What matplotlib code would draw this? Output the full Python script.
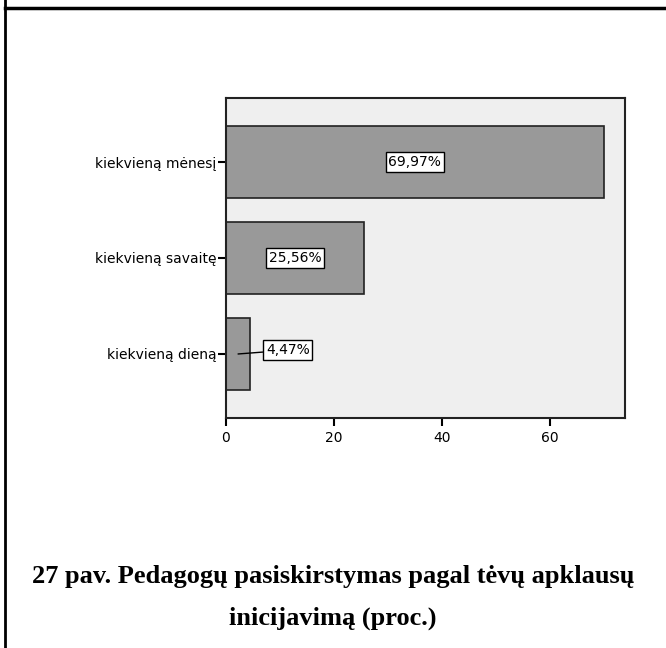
import matplotlib.pyplot as plt
from matplotlib.lines import Line2D

categories = ["kiekvieną dieną", "kiekvieną savaitę", "kiekvieną mėnesį"]
values = [4.47, 25.56, 69.97]
labels = ["4,47%", "25,56%", "69,97%"]
xticks = [0, 20, 40, 60]

fig = plt.figure(figsize=(6.66, 6.48), dpi=100)
W, H = 666, 648
sans = "DejaVu Sans"

# axes box in pixels: left 226, right 625, top 98, bottom 418
ax = fig.add_axes([226 / W, 1 - 418 / H, (625 - 226) / W, (418 - 98) / H])
ax.set_facecolor("#efefef")
ax.barh(range(len(values)), values, height=0.75, color="#999999",
        edgecolor="#222222", linewidth=1.2)
ax.set_xlim(0, 73.9)
ax.set_ylim(-0.667, 2.667)
ax.set_yticks(range(len(categories)))
ax.set_yticklabels(categories, fontsize=10, family=sans)
ax.set_xticks(xticks)
ax.set_xticklabels([str(t) for t in xticks], fontsize=10, family=sans)
ax.tick_params(axis="both", direction="out", length=6, width=1.5, color="black")
ax.tick_params(axis="y", pad=1)
ax.tick_params(axis="x", pad=3)
for s in ax.spines.values():
    s.set_linewidth(1.5)
    s.set_color("#222222")

box = dict(boxstyle="square,pad=0.2", facecolor="white", edgecolor="black", linewidth=1)
for i, (v, lab) in enumerate(zip(values, labels)):
    if v > 15:
        ax.text(v / 2, i, lab, ha="center", va="center", fontsize=10,
                family=sans, bbox=box)
    else:
        ax.annotate(lab, xy=(v / 2, i), xytext=(7.4, i + 0.04), ha="left", va="center",
                    fontsize=10, family=sans, bbox=box,
                    arrowprops=dict(arrowstyle="-", color="black", lw=1, shrinkA=0, shrinkB=0))

# page frame: top and left rule
fig.add_artist(Line2D([4.5 / W, 1], [1 - 8 / H, 1 - 8 / H], color="black", lw=2.5))
fig.add_artist(Line2D([4.5 / W, 4.5 / W], [0, 1], color="black", lw=2))

fig.text(0.5, 1 - 576 / H, "27 pav. Pedagogų pasiskirstymas pagal tėvų apklausų",
         ha="center", va="center", fontsize=19, fontweight="bold", family="Liberation Serif")
fig.text(0.5, 1 - 618 / H, "inicijavimą (proc.)",
         ha="center", va="center", fontsize=19, fontweight="bold", family="Liberation Serif")

fig.savefig("out.png", dpi=100)
